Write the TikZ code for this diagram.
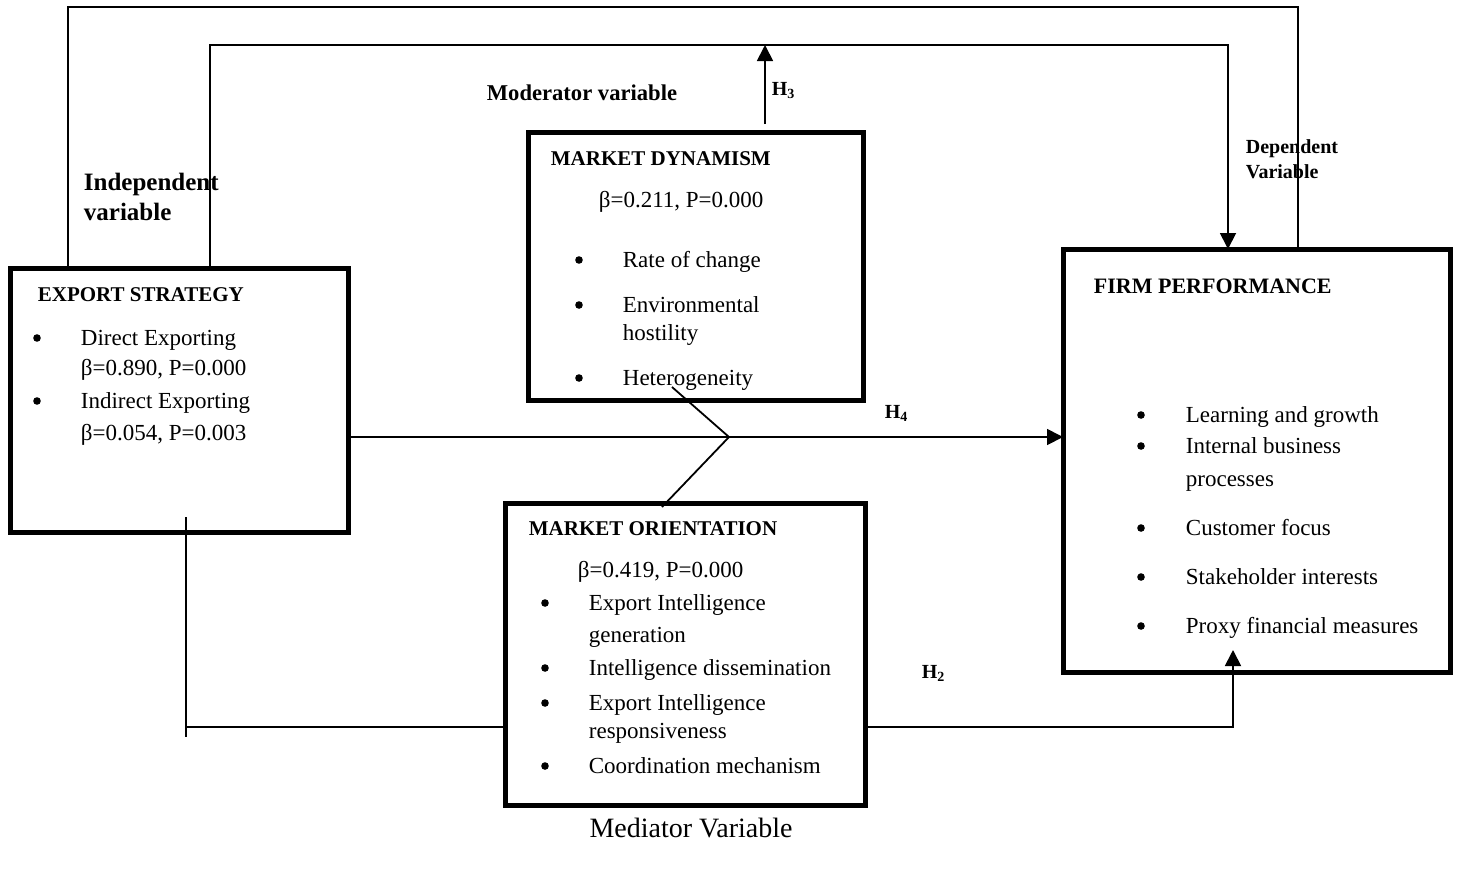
\documentclass[tikz,border=0pt]{standalone}
\usepackage{fontspec}
\setmainfont{Liberation Serif}
\usetikzlibrary{arrows.meta}

\begin{document}
\begin{tikzpicture}[x=0.5pt, y=-0.5pt, line width=0.9pt,
    box/.style={draw, line width=2.5pt, anchor=north west, inner sep=0, outer sep=0},
    item/.style={anchor=base west, inner sep=0, font=\fontsize{11.5}{13}\selectfont},
    dot/.style={circle, fill, inner sep=0, minimum size=3.8pt, yshift=3.5pt},
    title/.style={anchor=base west, inner sep=0, font=\bfseries\fontsize{10.5}{12}\selectfont},
    lbl/.style={anchor=base west, inner sep=0, font=\bfseries\fontsize{10}{12}\selectfont},
    arr/.style={-{Triangle[length=8pt,width=8pt]}}]
    \useasboundingbox (0,0) rectangle (1463,869);

    % the four boxes
    \node[box, minimum width=169pt, minimum height=132pt] (es) at (10,268) {};
    \node[box, minimum width=167.5pt, minimum height=134pt] (md) at (528,132) {};
    \node[box, minimum width=180pt, minimum height=151pt] (mo) at (505,503) {};
    \node[box, minimum width=193.5pt, minimum height=211.5pt] (fp) at (1063,249) {};

    % export strategy
    \node[title] (es-t) at (37,301) {EXPORT STRATEGY};
    \node[item] (es-1) at (80,345) {Direct Exporting};
    \node[item] (es-2) at (80,375) {β=0.890, P=0.000};
    \node[item] (es-3) at (80,408) {Indirect Exporting};
    \node[item] (es-4) at (80,440) {β=0.054, P=0.003};
    \foreach \y in {345,408}
      \node[dot] (es-b\y) at (37,\y) {};

    % market dynamism
    \node[title] (md-t) at (550,165) {MARKET DYNAMISM};
    \node[item] (md-v) at (598,207) {β=0.211, P=0.000};
    \foreach \y/\t in {267/Rate of change, 312/Environmental, 340/hostility, 385/Heterogeneity}
      \node[item] (md-\y) at (622,\y) {\t};
    \foreach \y in {267,312,385}
      \node[dot] (md-b\y) at (579,\y) {};

    % market orientation
    \node[title] (mo-t) at (528,535) {MARKET ORIENTATION};
    \node[item] (mo-v) at (577,577) {β=0.419, P=0.000};
    \foreach \y/\t in {610/Export Intelligence, 642/generation, 675/Intelligence dissemination,
                       710/Export Intelligence, 738/responsiveness, 773/Coordination mechanism}
      \node[item] (mo-\y) at (588,\y) {\t};
    \foreach \y in {610,675,710,773}
      \node[dot] (mo-b\y) at (545,\y) {};

    % firm performance
    \node[title, font=\bfseries\fontsize{11}{13}\selectfont] (fp-t) at (1093,293) {FIRM PERFORMANCE};
    \foreach \y/\t in {422/Learning and growth, 453/Internal business, 486/processes,
                       535/Customer focus, 584/Stakeholder interests, 633/Proxy financial measures}
      \node[item] (fp-\y) at (1185,\y) {\t};
    \foreach \y in {422,453,535,584,633}
      \node[dot] (fp-b\y) at (1141,\y) {};

    % variable labels
    \node[lbl, font=\bfseries\fontsize{11.3}{13}\selectfont] (mod) at (486,100) {Moderator variable};
    \node[lbl, font=\bfseries\fontsize{12.5}{15}\selectfont] (ind1) at (83,190) {Independent};
    \node[lbl, font=\bfseries\fontsize{12.5}{15}\selectfont] (ind2) at (83,220) {variable};
    \node[lbl] (dep1) at (1245,153) {Dependent};
    \node[lbl] (dep2) at (1245,178) {Variable};
    \node[anchor=base, inner sep=0, font=\fontsize{14}{16}\selectfont] (med) at (691,837) {Mediator Variable};
    \node[lbl] (h3) at (771,95) {H\textsubscript{3}};
    \node[lbl] (h4) at (884,418) {H\textsubscript{4}};
    \node[lbl] (h2) at (921,678) {H\textsubscript{2}};

    % connectors
    \coordinate (otop) at (1298,7);
    \coordinate (itop) at (1228,45);
    \coordinate (h3s) at (765,124);
    \draw (es.north -| 68,0) |- (otop) -- (fp.north -| otop);
    \draw[arr] (es.north -| 210,0) |- (itop) -- (fp.north -| itop);
    \draw[arr] (h3s) -- (h3s |- itop);
    \draw[arr] (es.east |- 0,437) -- (fp.west |- 0,437);

    \coordinate (zt) at (672,387);
    \coordinate (zk) at (729,437);
    \coordinate (zb) at (662,507);
    \draw (zt) -- (zk) -- (zb);

    \coordinate (vt) at (186,517);
    \coordinate (vb) at (186,737);
    \coordinate (h2e) at (1233,650);
    \draw (vt) -- (vb);
    \draw (vt |- 0,727) -- (mo.west |- 0,727);
    \draw[arr] (mo.east |- 0,727) -| (h2e);
\end{tikzpicture}
\end{document}
